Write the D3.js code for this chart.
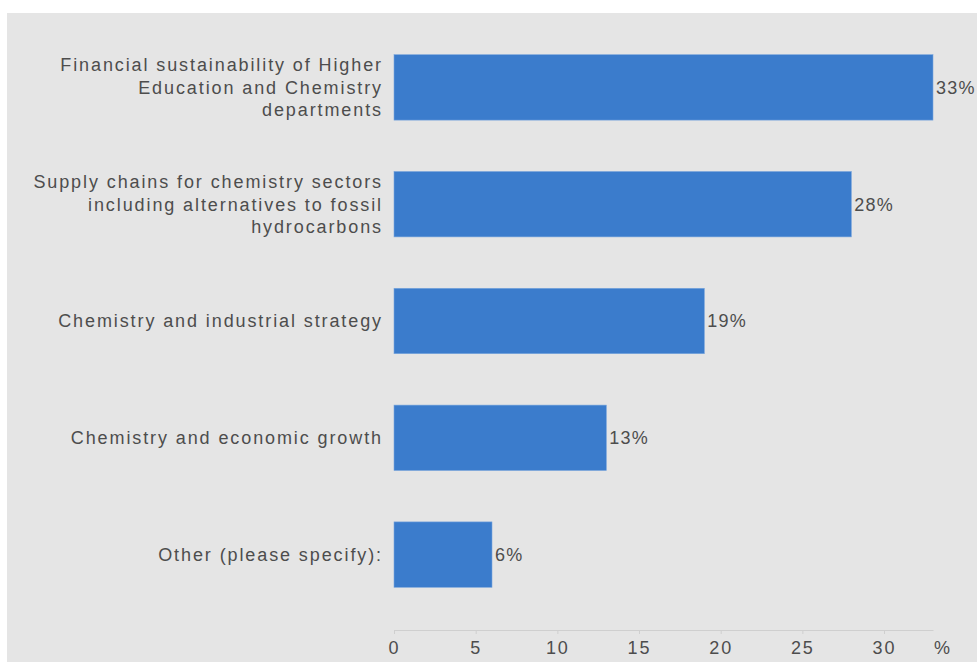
<!DOCTYPE html>
<html>
<head>
<meta charset="utf-8">
<script src="https://cdn.jsdelivr.net/npm/d3@7"></script>
<style>
  html, body { margin: 0; padding: 0; background: #ffffff; }
  svg { display: block; }
</style>
</head>
<body>
<svg id="chart" width="977" height="662"></svg>
<script>
// Survey responses: share of respondents choosing each topic
const categories = [
  ["Financial sustainability of Higher", "Education and Chemistry", "departments"],
  ["Supply chains for chemistry sectors", "including alternatives to fossil", "hydrocarbons"],
  ["Chemistry and industrial strategy"],
  ["Chemistry and economic growth"],
  ["Other (please specify):"]
];
const values = [33, 28, 19, 13, 6];
const tickValues = [0, 5, 10, 15, 20, 25, 30];
const unitLabel = "%";

const svg = d3.select("#chart");
const W = 977, H = 662;

// grey panel
svg.append("rect")
  .attr("x", 7).attr("y", 13)
  .attr("width", W - 7).attr("height", H - 13)
  .attr("fill", "#e5e5e5");

const x = d3.scaleLinear().domain([0, 33]).range([394, 933]);
const y = d3.scaleBand()
  .domain(d3.range(values.length))
  .range([29, 613])
  .paddingInner(0.44)
  .paddingOuter(0.22);

const font = "'Liberation Sans', Arial, sans-serif";
const textColor = "#4d4d4d";
const fontSize = 18;
const spacing = 1.9;

// bars
svg.append("g").selectAll("rect")
  .data(values)
  .join("rect")
  .attr("x", x(0))
  .attr("y", (d, i) => y(i))
  .attr("width", d => x(d) - x(0))
  .attr("height", y.bandwidth())
  .attr("fill", "#3b7ccc")
  .attr("stroke", "#7aa6dd")
  .attr("stroke-width", 0.6);

// value labels
svg.append("g").selectAll("text")
  .data(values)
  .join("text")
  .attr("x", d => x(d) + 3)
  .attr("y", (d, i) => y(i) + y.bandwidth() / 2)
  .attr("dy", "0.35em")
  .attr("font-family", font)
  .attr("font-size", fontSize)
  .attr("letter-spacing", 1.2)
  .attr("fill", textColor)
  .text(d => d + "%");

// category labels (right aligned, multi-line)
const lineH = 22.5;
const labelX = 383;
const catG = svg.append("g");
categories.forEach((lines, i) => {
  const cy = y(i) + y.bandwidth() / 2;
  const t = catG.append("text")
    .attr("x", labelX)
    .attr("y", cy - (lines.length - 1) * lineH / 2)
    .attr("text-anchor", "end")
    .attr("font-family", font)
    .attr("font-size", fontSize)
    .attr("letter-spacing", spacing)
    .attr("fill", textColor);
  lines.forEach((ln, k) => {
    t.append("tspan")
      .attr("x", labelX)
      .attr("dy", k === 0 ? "0.35em" : lineH)
      .text(ln);
  });
});

// x axis
const axis = svg.append("g")
  .attr("transform", "translate(0,630)")
  .call(d3.axisBottom(x).tickValues(tickValues).tickSize(4).tickSizeOuter(0).tickPadding(7));
axis.select(".domain").attr("stroke", "#cfcfcf");
axis.selectAll(".tick line").attr("stroke", "#cfcfcf");
axis.selectAll(".tick text")
  .attr("font-family", font)
  .attr("font-size", fontSize)
  .attr("letter-spacing", spacing)
  .attr("fill", textColor);

axis.append("text")
  .attr("x", x(33) + 9)
  .attr("y", 11)
  .attr("dy", "0.71em")
  .attr("text-anchor", "middle")
  .attr("font-family", font)
  .attr("font-size", fontSize)
  .attr("fill", textColor)
  .text(unitLabel);
</script>
</body>
</html>
